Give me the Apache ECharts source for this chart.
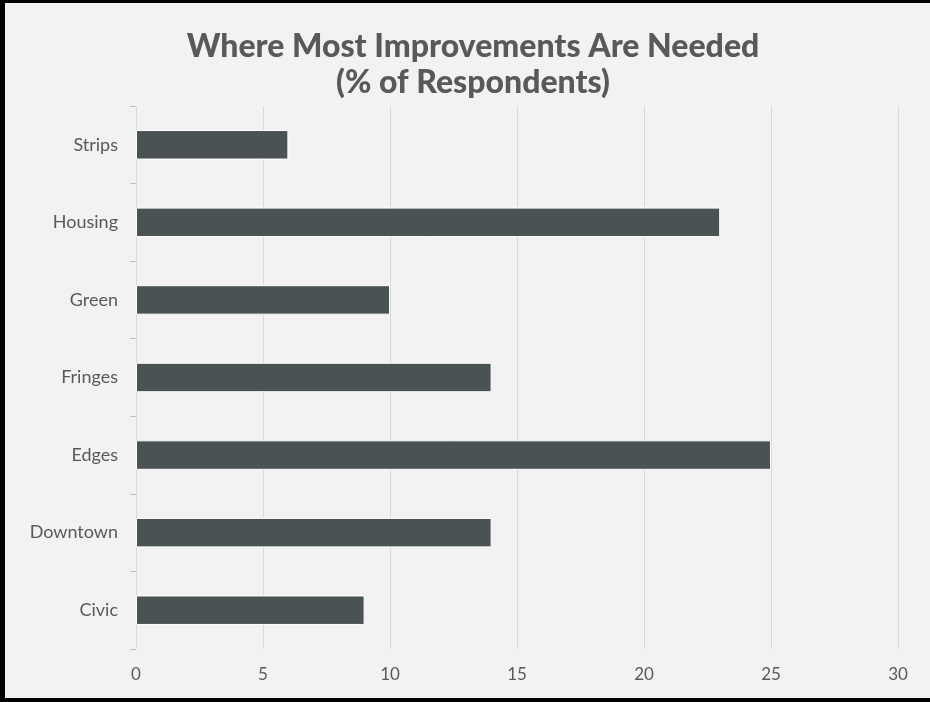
<!DOCTYPE html>
<html>
<head>
<meta charset="utf-8">
<script src="https://cdn.jsdelivr.net/npm/echarts@6/dist/echarts.min.js"></script>
<style>
  html, body { margin: 0; padding: 0; background: #f2f2f2; }
  #frame {
    width: 930px; height: 702px; box-sizing: border-box;
    border-top: 3px solid #000; border-left: 5px solid #000; border-bottom: 4px solid #000;
    position: relative; background: #f2f2f2;
  }
  #chart { position: absolute; left: -5px; top: -3px; width: 930px; height: 702px; }
</style>
</head>
<body>
<div id="frame"><div id="chart"></div></div>
<script>
// Share of respondents naming each area as most in need of improvement
const categories = ['Civic', 'Downtown', 'Edges', 'Fringes', 'Green', 'Housing', 'Strips'];
const percentValues = [9, 14, 25, 14, 10, 23, 6];
const xTicks = [0, 5, 10, 15, 20, 25, 30];

const textColor = '#595959';
const fontFamily = 'Lato, "Open Sans", sans-serif';

const chart = echarts.init(document.getElementById('chart'), null, { renderer: 'canvas' });
chart.setOption({
  backgroundColor: 'transparent',
  animation: false,
  title: {
    text: 'Where Most Improvements Are Needed\n(% of Respondents)',
    left: 468,
    top: 24,
    textAlign: 'center',
    textStyle: {
      color: textColor,
      fontFamily: fontFamily,
      fontWeight: 900,
      fontSize: 32,
      lineHeight: 36
    }
  },
  grid: { left: 136, right: 32, top: 106, bottom: 53, containLabel: false },
  xAxis: {
    type: 'value',
    min: xTicks[0],
    max: xTicks[xTicks.length - 1],
    interval: xTicks[1] - xTicks[0],
    axisLine: { show: false },
    axisTick: { show: false },
    splitLine: { show: true, lineStyle: { color: '#d9d9d9', width: 1 } },
    axisLabel: { color: textColor, fontFamily: fontFamily, fontSize: 17, margin: 17 }
  },
  yAxis: {
    type: 'category',
    data: categories,
    boundaryGap: true,
    axisLine: { show: false },
    axisTick: { show: true, length: 6, lineStyle: { color: '#bfbfbf' } },
    axisLabel: { color: textColor, fontFamily: fontFamily, fontSize: 18, margin: 18 }
  },
  series: [{
    type: 'bar',
    data: percentValues,
    barWidth: '38%',
    itemStyle: { color: '#4b5254', borderColor: '#ffffff', borderWidth: 1 }
  }]
});
</script>
</body>
</html>
